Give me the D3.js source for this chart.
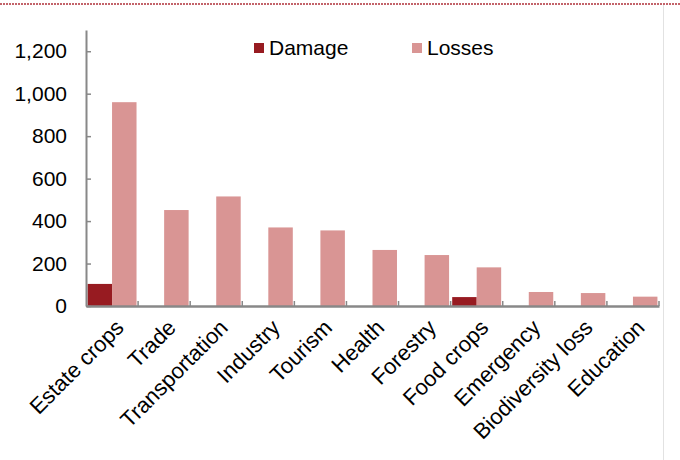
<!DOCTYPE html>
<html>
<head>
<meta charset="utf-8">
<script src="https://cdn.jsdelivr.net/npm/d3@7"></script>
<style>
  html, body { margin: 0; padding: 0; background: #fff; }
  svg { display: block; font-family: "Liberation Sans", Arial, sans-serif; }
</style>
</head>
<body>
<svg id="chart" width="680" height="460"></svg>
<script>
const categories = ["Estate crops", "Trade", "Transportation", "Industry", "Tourism", "Health", "Forestry", "Food crops", "Emergency", "Biodiversity loss", "Education"];
const seriesNames = ["Damage", "Losses"];
const damage = [104, 0, 0, 0, 0, 0, 0, 42, 0, 0, 0];
const losses = [960, 452, 516, 370, 356, 264, 240, 182, 66, 61, 44];
const yTicks = [0, 200, 400, 600, 800, 1000, 1200];
const colors = ["#971b21", "#d99594"];

const svg = d3.select("#chart");
const plotLeft = 86, plotRight = 659, plotTop = 30, plotBottom = 306;

const x = d3.scaleBand().domain(categories).range([plotLeft, plotRight]).padding(0);
const bw = x.bandwidth();
const xs = d3.scaleBand().domain(seriesNames).range([bw * 0.03, bw * 0.97]).padding(0);
const y = d3.scaleLinear().domain([0, 1300]).range([plotBottom, plotTop]);

const values = { Damage: damage, Losses: losses };

// frame decorations
svg.append("line").attr("x1", 0).attr("x2", 680).attr("y1", 4).attr("y2", 4)
  .attr("stroke", "#b0303a").attr("stroke-width", 1.5).attr("stroke-dasharray", "2,1");
svg.append("line").attr("x1", 663.5).attr("x2", 663.5).attr("y1", 5).attr("y2", 460)
  .attr("stroke", "#e2e2e2").attr("stroke-width", 1);

// bars
seriesNames.forEach((s, si) => {
  svg.append("g").selectAll("rect")
    .data(categories.map((c, i) => ({ c, v: values[s][i] })).filter(d => d.v > 0))
    .join("rect")
    .attr("x", d => x(d.c) + xs(s))
    .attr("width", xs.bandwidth())
    .attr("y", d => y(d.v))
    .attr("height", d => y(0) - y(d.v))
    .attr("fill", colors[si]);
});

// y axis
const yAxis = svg.append("g").attr("transform", `translate(${plotLeft},0)`)
  .call(d3.axisLeft(y).tickValues(yTicks).tickFormat(d3.format(",")).tickSizeInner(-5).tickSizeOuter(0).tickPadding(19));
yAxis.select(".domain").attr("stroke", "#888").attr("stroke-width", 2);
yAxis.selectAll(".tick line").attr("stroke", "#888").attr("stroke-width", 1.5);
yAxis.selectAll("text").attr("font-size", 21).attr("fill", "#000").attr("font-family", "Liberation Sans, Arial, sans-serif");

// x axis
const xAxis = svg.append("g").attr("transform", `translate(0,${plotBottom})`)
  .call(d3.axisBottom(x).tickSize(0).tickSizeOuter(0));
xAxis.select(".domain").attr("stroke", "#888").attr("stroke-width", 2.5);
xAxis.selectAll(".tick text")
  .attr("font-size", 22).attr("fill", "#000").attr("font-family", "Liberation Sans, Arial, sans-serif")
  .attr("text-anchor", "end")
  .attr("x", 0).attr("y", 0).attr("dy", "0.71em")
  .attr("transform", "translate(2,12) rotate(-45)");
// boundary ticks
const bounds = d3.range(categories.length + 1).map(i => plotLeft + x.step() * i);
svg.append("g").selectAll("line").data(bounds.slice(1)).join("line")
  .attr("x1", d => d).attr("x2", d => d)
  .attr("y1", plotBottom).attr("y2", plotBottom - 5)
  .attr("stroke", "#888").attr("stroke-width", 1.5);

// legend
const legend = svg.append("g");
const legendX = [254, 412];
seriesNames.forEach((s, i) => {
  legend.append("rect").attr("x", legendX[i]).attr("y", 43).attr("width", 10).attr("height", 10).attr("fill", colors[i]);
  legend.append("text").attr("x", legendX[i] + 15).attr("y", 55).attr("font-size", 21)
    .attr("fill", "#000").text(s);
});
</script>
</body>
</html>
